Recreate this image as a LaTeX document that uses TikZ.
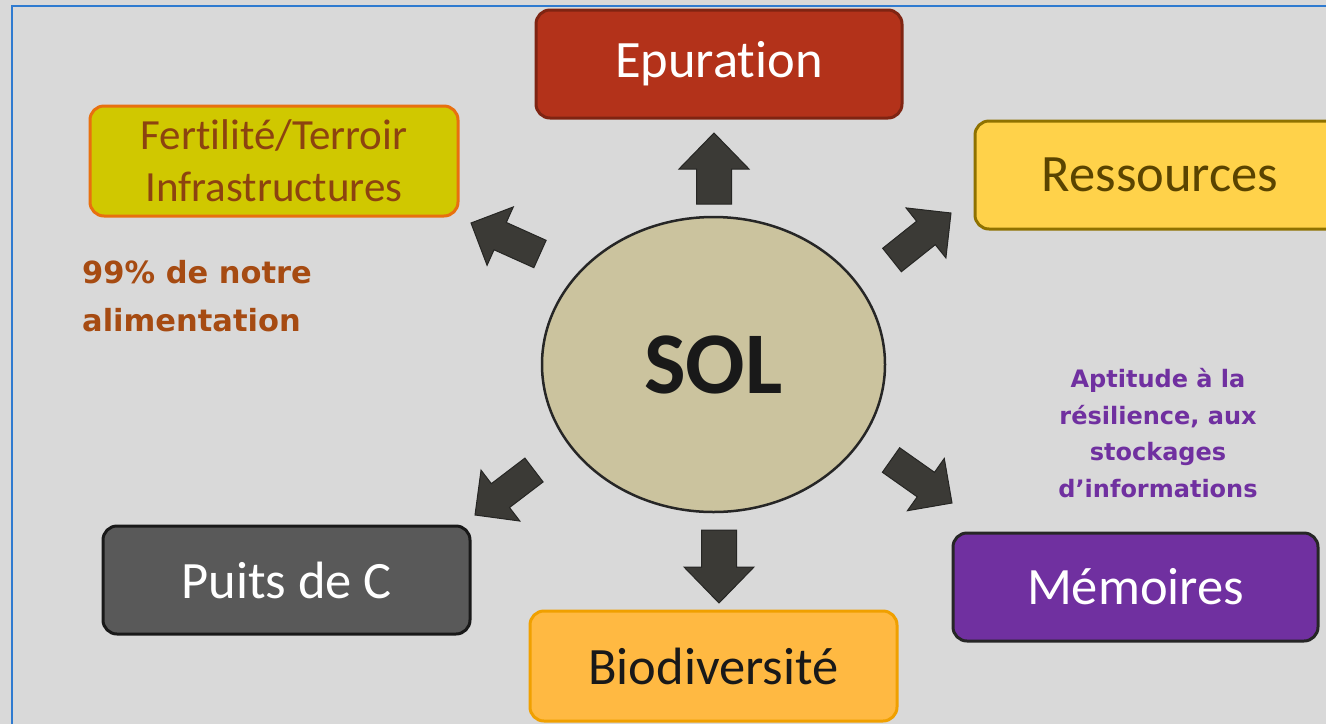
\documentclass[tikz,border=0pt]{standalone}
\usepackage{fontspec}
\setmainfont[Ligatures=NoCommon]{Carlito}
\newfontfamily\notefont[Ligatures=NoCommon]{DejaVu Sans}
\usetikzlibrary{calc,shapes.geometric}
\definecolor{bgc}{HTML}{D9D9D9}
\definecolor{framec}{HTML}{2F7BD0}
\definecolor{epfill}{HTML}{B3321A}
\definecolor{epdraw}{HTML}{7F2412}
\definecolor{ffill}{HTML}{D0C800}
\definecolor{fdraw}{HTML}{E8700F}
\definecolor{ftext}{HTML}{8C4310}
\definecolor{rfill}{HTML}{FFD24A}
\definecolor{rdraw}{HTML}{8F7200}
\definecolor{rtext}{HTML}{5A4400}
\definecolor{mfill}{HTML}{7030A0}
\definecolor{bfill}{HTML}{FFB942}
\definecolor{bdraw}{HTML}{F0A000}
\definecolor{pfill}{HTML}{595959}
\definecolor{solfill}{HTML}{CBC39E}
\definecolor{arrfill}{HTML}{3B3A36}
\definecolor{arrdraw}{HTML}{262624}
\definecolor{notec}{HTML}{A64B12}
\newcommand\blockarr[5]{%
  \coordinate (h) at ($(#2)!#3!(#1)$);
  \draw[blockarrow] ($(#1)!#4!90:(#2)$) -- ($(h)!#4!90:(#2)$) -- ($(h)!#5!90:(#2)$) -- (#2) -- ($(h)!#5!-90:(#2)$) -- ($(h)!#4!-90:(#2)$) -- ($(#1)!#4!-90:(#2)$) -- cycle;}
\begin{document}
\begin{tikzpicture}[x=1pt,y=-1pt,
  box/.style={rectangle, rounded corners=14pt, line width=3pt, minimum width=366pt, minimum height=108pt, inner sep=0pt, align=center},
  bigtext/.style={font=\fontsize{52.5}{60}\selectfont},
  blockarrow/.style={fill=arrfill, draw=arrdraw, line width=1pt, line join=miter}]
\useasboundingbox (0,0) rectangle (1326,724);
\clip (0,0) rectangle (1326,724);
\fill[bgc] (0,0) rectangle (1326,724);
\draw[framec, line width=2pt] (12,724) -- (12,6) -- (1326,6);

\node[box, bigtext, fill=epfill, draw=epdraw, text=white] (epur) at (719,64) {Epuration};
\node[box, fill=ffill, draw=fdraw, text=ftext, minimum width=368pt, minimum height=110pt, font=\fontsize{43}{52}\selectfont] (fert) at (274,161) {Fertilité/Terroir\\Infrastructures};
\node[box, bigtext, fill=rfill, draw=rdraw, text=rtext, minimum width=370pt] (ress) at (1160,175) {Ressources};
\node[box, bigtext, fill=mfill, draw=black!85, text=white, minimum width=365pt] (memo) at (1135.5,587) {Mémoires};
\node[box, bigtext, fill=bfill, draw=bdraw, text=black!90, minimum width=367pt, minimum height=110pt] (bio) at (713.5,666) {Biodiversité};
\node[box, bigtext, fill=pfill, draw=black!90, text=white, minimum width=367pt] (puits) at (286.5,580) {Puits de C};

\node[ellipse, fill=solfill, draw=black!85, line width=2.5pt, minimum width=343pt, minimum height=295pt, inner sep=0pt, text=black!90, font=\fontsize{88}{90}\selectfont\bfseries] (sol) at (713.5,364.5) {SOL};

\node[anchor=west, align=left, inner sep=0pt, text=notec, font=\notefont\fontsize{30.5}{48}\selectfont\bfseries] (note) at (82,296) {99\% de notre\\alimentation};
\node[align=center, inner sep=0pt, text=mfill, font=\notefont\fontsize{24}{36.5}\selectfont\bfseries] (apt) at (1158,433) {Aptitude à la\\résilience, aux\\stockages\\d’informations};

\coordinate (upA) at (714,204); \coordinate (upB) at (714,133);
\coordinate (dnA) at (719,530); \coordinate (dnB) at (719,603);
\coordinate (ulA) at (540,254); \coordinate (ulB) at (471,223);
\coordinate (urA) at (892,260); \coordinate (urB) at (951,213);
\coordinate (llA) at (534,470); \coordinate (llB) at (475,515);
\coordinate (lrA) at (891,460); \coordinate (lrB) at (952,503);
\blockarr{upA}{upB}{36pt}{17.5pt}{35pt}
\blockarr{dnA}{dnB}{36pt}{17.5pt}{35pt}
\blockarr{ulA}{ulB}{32pt}{15pt}{32pt}
\blockarr{urA}{urB}{32pt}{15pt}{32pt}
\blockarr{llA}{llB}{32pt}{15pt}{32pt}
\blockarr{lrA}{lrB}{32pt}{15pt}{32pt}
\end{tikzpicture}
\end{document}
